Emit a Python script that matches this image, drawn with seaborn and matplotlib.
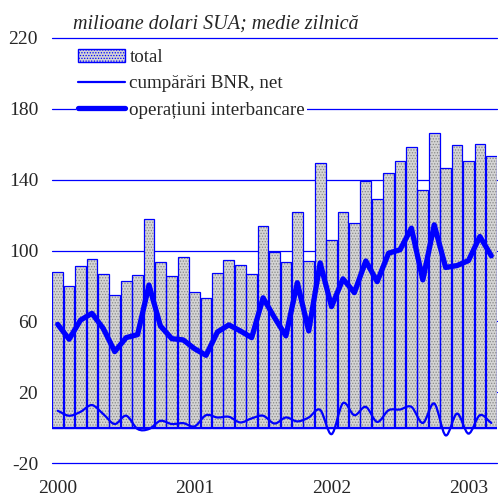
import numpy as np
import pandas as pd
import matplotlib
matplotlib.use("Agg")
import matplotlib.pyplot as plt
from matplotlib.path import Path
from matplotlib.patches import PathPatch, Patch
from matplotlib.lines import Line2D
import seaborn as sns

# monthly data, Jan 2000 - Mar 2003 (mil. USD, daily average)
months = [d.strftime("%Y-%m") for d in pd.date_range("2000-01-01", periods=39, freq="MS")]
total = [87.6, 79.7, 91.0, 95.3, 86.9, 74.8, 82.7, 86.1, 117.8, 93.6, 85.7, 96.4,
         76.7, 73.3, 87.4, 94.7, 91.9, 86.9, 113.9, 99.2, 93.4, 122.0, 94.0, 149.6,
         106.0, 121.7, 115.5, 139.2, 129.0, 144.0, 150.4, 158.5, 134.0, 166.4, 146.4, 159.6,
         150.4, 160.4, 153.6]
bnr_net = [9.5, 6.7, 8.9, 12.7, 7.6, 2.0, 6.7, -0.8, -0.8, 3.8, 2.0, 2.5,
           0.7, 7.0, 5.7, 6.1, 2.9, 5.2, 6.7, 2.3, 5.7, 3.5, 5.7, 10.0,
           -3.7, 13.8, 7.0, 11.7, 3.2, 9.8, 10.2, 11.7, 2.6, 13.6, -4.4, 7.9,
           -3.4, 7.0, 2.6]
interbank = [58.3, 49.9, 60.7, 64.5, 55.9, 42.9, 50.8, 52.5, 80.5, 57.4, 50.2, 49.5,
             44.5, 40.8, 54.0, 58.0, 54.6, 50.8, 73.3, 62.1, 51.8, 81.8, 54.6, 93.0,
             68.3, 84.0, 76.2, 94.1, 82.4, 98.5, 100.4, 112.6, 83.4, 114.5, 90.4, 91.5,
             94.3, 107.9, 97.0]
year_labels = ["2000", "2001", "2002", "2003"]
y_ticks = [-20, 20, 60, 100, 140, 180, 220]

df = pd.DataFrame({"luna": months, "total": total, "bnr": bnr_net, "inter": interbank})
df["pos"] = np.arange(len(df))

BLUE = "#0000ff"
BAR_FACE = "#d4d4d4"
HATCH_GREY = "#888888"
sns.set_style("white")
plt.rcParams["font.family"] = ["Liberation Serif", "DejaVu Serif"]
plt.rcParams["hatch.linewidth"] = 0.6

fig = plt.figure(figsize=(4.98, 4.96), dpi=100)
ax = fig.add_axes([52 / 498, 1 - 463 / 496, 445 / 498, 425 / 496])

# gridlines
for t in y_ticks:
    ax.axhline(t, color=BLUE, lw=0.9, zorder=0, clip_on=False)

# bars: hatched fill, then blue outline on top
sns.barplot(data=df, x="luna", y="total", order=months, color=BAR_FACE,
            width=0.94, linewidth=0, ax=ax, zorder=1)
for p in ax.patches:
    p.set_hatch("......")
    p.set_edgecolor(HATCH_GREY)
    p.set_linewidth(0)
sns.barplot(data=df, x="luna", y="total", order=months, fill=False,
            width=0.94, edgecolor=BLUE, linewidth=0.9, ax=ax, zorder=2)

ax.axhline(0, color=BLUE, lw=1.6, zorder=3)

# thin smoothed line (bezier through the monthly points)
x = df["pos"].to_numpy(float)
y = df["bnr"].to_numpy(float)
verts = [(x[0], y[0])]
codes = [Path.MOVETO]
for i in range(len(x) - 1):
    y0 = y[i - 1] if i > 0 else y[i]
    y3 = y[i + 2] if i + 2 < len(y) else y[i + 1]
    m1 = (y[i + 1] - y0) / (2 if i > 0 else 1)
    m2 = (y3 - y[i]) / (2 if i + 2 < len(y) else 1)
    verts += [(x[i] + 1 / 3, y[i] + m1 / 3), (x[i + 1] - 1 / 3, y[i + 1] - m2 / 3), (x[i + 1], y[i + 1])]
    codes += [Path.CURVE4] * 3
ax.add_patch(PathPatch(Path(verts, codes), facecolor="none", edgecolor=BLUE, lw=1.6,
                       zorder=4, capstyle="round"))

# thick line
sns.lineplot(data=df, x="pos", y="inter", color=BLUE, lw=3.8, ax=ax, zorder=5,
             solid_joinstyle="round", solid_capstyle="round")

ax.set_xlim(-0.5, len(months) - 0.5)
ax.set_ylim(-20, 220)
ax.set_yticks(y_ticks)
ax.set_yticklabels([str(t) for t in y_ticks])
ax.set_xticks([0, 12, 24, 36])
ax.set_xticklabels(year_labels)
ax.tick_params(axis="y", length=0, pad=10, labelsize=14)
ax.tick_params(axis="x", length=0, pad=12.5, labelsize=14)
ax.set_xlabel("")
ax.set_ylabel("")
for s in ax.spines.values():
    s.set_visible(False)

handles = [Patch(facecolor=BAR_FACE, edgecolor=BLUE, hatch="......", lw=1),
           Line2D([], [], color=BLUE, lw=1.6),
           Line2D([], [], color=BLUE, lw=3.8, solid_capstyle="round")]
labels = ["total", "cumpărări BNR, net", "operațiuni interbancare"]
leg = ax.legend(handles, labels, loc="upper left", bbox_to_anchor=(76 / 498, 1 - 47 / 496),
                bbox_transform=fig.transFigure, frameon=True, fancybox=False,
                framealpha=1, edgecolor="white", fontsize=13.7, handlelength=2.5,
                handletextpad=0.2, labelspacing=0.47, borderpad=0.1, borderaxespad=0)
leg.get_frame().set_linewidth(0)
for h in leg.legend_handles:
    if isinstance(h, Patch):
        h.set_edgecolor(BLUE)

fig.text(73 / 498, 1 - 24 / 496, "milioane dolari SUA; medie zilnică", style="italic",
         fontsize=14.5, va="center", ha="left")

fig.savefig("out.png", dpi=100)
